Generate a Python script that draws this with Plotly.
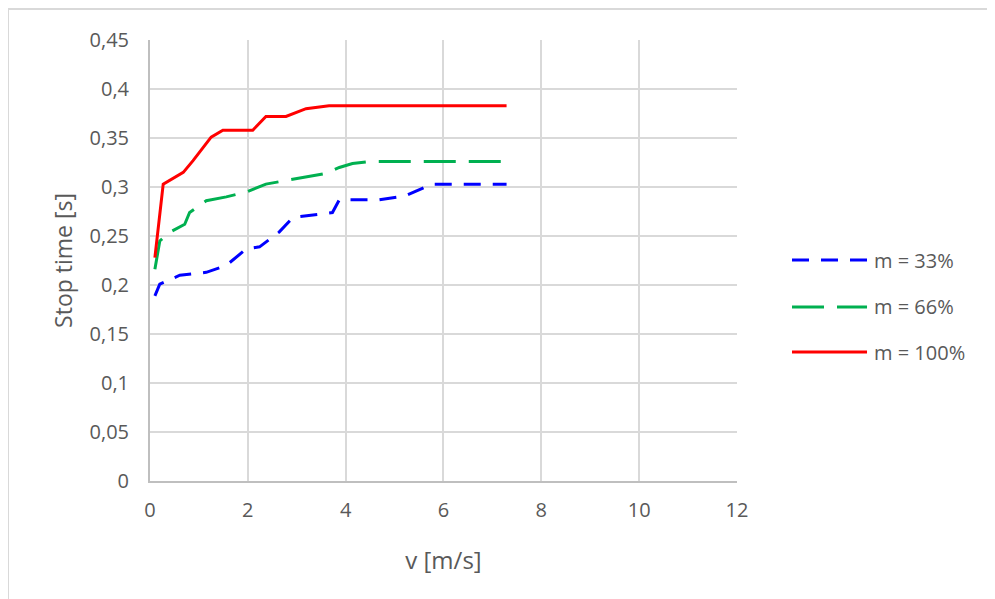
import plotly.graph_objects as go

# Data
v_33 = [0.10, 0.20, 0.61, 1.15, 1.56, 1.97, 2.24, 2.64, 2.92, 3.73, 3.87, 4.68, 5.22, 5.76, 7.29]
t_33 = [0.189, 0.201, 0.210, 0.213, 0.220, 0.237, 0.239, 0.254, 0.269, 0.274, 0.287, 0.287, 0.291, 0.303, 0.303]

v_66 = [0.10, 0.20, 0.41, 0.71, 0.81, 1.15, 1.56, 1.97, 2.37, 3.19, 3.60, 3.87, 4.14, 4.48, 7.29]
t_66 = [0.216, 0.245, 0.254, 0.262, 0.274, 0.286, 0.290, 0.295, 0.303, 0.310, 0.314, 0.320, 0.324, 0.326, 0.326]

v_100 = [0.10, 0.27, 0.68, 0.88, 1.25, 1.49, 2.10, 2.37, 2.78, 3.19, 3.66, 7.29]
t_100 = [0.228, 0.303, 0.315, 0.327, 0.351, 0.358, 0.358, 0.372, 0.372, 0.380, 0.383, 0.383]

series_names = ["m = 33%", "m = 66%", "m = 100%"]
series_colors = ["#0000FF", "#00B050", "#FF0000"]
series_dash = ["17px,12px", "32px,13px", "solid"]

y_tickvals = [0, 0.05, 0.1, 0.15, 0.2, 0.25, 0.3, 0.35, 0.4, 0.45]
y_ticktext = ["0", "0,05", "0,1", "0,15", "0,2", "0,25", "0,3", "0,35", "0,4", "0,45"]
x_tickvals = [0, 2, 4, 6, 8, 10, 12]

FONT = "Open Sans"
GREY = "#595959"

fig = go.Figure()
for xs, ys, name, col, dash in zip([v_33, v_66, v_100], [t_33, t_66, t_100],
                                   series_names, series_colors, series_dash):
    fig.add_trace(go.Scatter(x=xs, y=ys, mode="lines", name=name,
                             line=dict(color=col, width=3, dash=dash),
                             showlegend=False))

# Manual legend (long sample lines like the reference)
leg_y = [0.501, 0.3946, 0.2925]
shapes = []
annotations = []
for name, col, dash, yy in zip(series_names, series_colors, series_dash, leg_y):
    shapes.append(dict(type="line", xref="paper", yref="paper",
                       x0=1.0937, x1=1.2215, y0=yy, y1=yy,
                       line=dict(color=col, width=3, dash=dash)))
    annotations.append(dict(xref="paper", yref="paper", x=1.2300, y=yy,
                            text=name, showarrow=False, xanchor="left",
                            yanchor="middle",
                            font=dict(family=FONT, size=20, color=GREY)))

# Outer chart border
shapes.append(dict(type="rect", xref="paper", yref="paper",
                   x0=-0.2419, x1=1.6, y0=-0.4, y1=1.0703,
                   line=dict(color="#d9d9d9", width=2), layer="below"))

fig.update_layout(
    width=987, height=591,
    margin=dict(l=142, r=258, t=32, b=118),
    paper_bgcolor="white", plot_bgcolor="white",
    separators=",.",
    font=dict(family=FONT, size=20, color=GREY),
    shapes=shapes, annotations=annotations,
    xaxis=dict(range=[0, 12.001], tickvals=x_tickvals,
               showgrid=True, gridcolor="#d9d9d9", gridwidth=1.5,
               showline=True, linecolor="#bfbfbf", linewidth=2,
               zeroline=False, ticks="", ticklabelstandoff=10,
               automargin=False,
               tickfont=dict(family=FONT, size=20, color=GREY),
               title=dict(text="v [m/s]", standoff=30,
                          font=dict(family=FONT, size=24, color=GREY))),
    yaxis=dict(range=[0, 0.4501], tickvals=y_tickvals, ticktext=y_ticktext,
               showgrid=True, gridcolor="#d9d9d9", gridwidth=1.5,
               showline=True, linecolor="#bfbfbf", linewidth=2,
               zeroline=False, ticks="", ticklabelstandoff=15,
               automargin=False,
               tickfont=dict(family=FONT, size=20, color=GREY),
               title=dict(text="Stop time [s]", standoff=10,
                          font=dict(family=FONT, size=23, color=GREY))),
)

fig.write_html("out.html")
